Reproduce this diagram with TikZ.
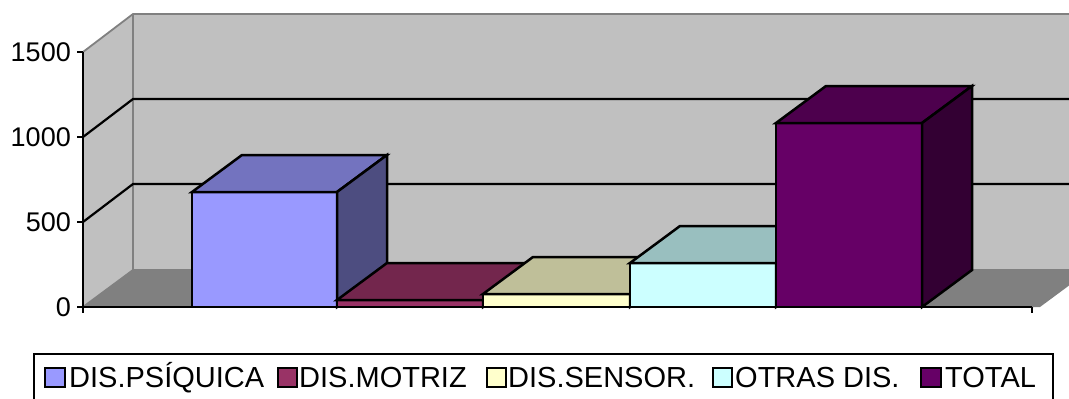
\documentclass[tikz,border=0pt]{standalone}
\usepackage{fontspec}
\setmainfont{Liberation Sans}
\definecolor{wall}{HTML}{C0C0C0}
\definecolor{floorc}{HTML}{808080}
\definecolor{edgec}{HTML}{808080}
\definecolor{fA}{HTML}{9999FF}\definecolor{tA}{HTML}{7373BF}\definecolor{sA}{HTML}{4D4D80}
\definecolor{fB}{HTML}{993366}\definecolor{tB}{HTML}{73264D}\definecolor{sB}{HTML}{4D1A33}
\definecolor{fC}{HTML}{FFFFCC}\definecolor{tC}{HTML}{BFBF99}\definecolor{sC}{HTML}{808066}
\definecolor{fD}{HTML}{CCFFFF}\definecolor{tD}{HTML}{99BFBF}\definecolor{sD}{HTML}{668080}
\definecolor{fE}{HTML}{660066}\definecolor{tE}{HTML}{4D004D}\definecolor{sE}{HTML}{330033}
\newcommand\drawbar[6]{%
  \filldraw[barline,fill=#4] (#1,307) rectangle (#2,#3);
  \filldraw[barline,fill=#5] (#1,#3) -- ++(50,-37) -- ++(#2-#1,0) -- (#2,#3) -- cycle;
  \filldraw[barline,fill=#6] (#2,#3) -- ++(50,-37) -- (#2+50,270) -- (#2,307) -- cycle;
}
\begin{document}
\begin{tikzpicture}[x=1pt,y=-1pt,
  barline/.style={draw=black,line width=2.5pt,line join=miter},
  grid/.style={draw=black,line width=2.2pt},
  wedge/.style={draw=edgec,line width=1.8pt},
  axisline/.style={draw=black,line width=2.6pt},
  ylab/.style={font=\fontsize{27}{27}\selectfont,anchor=base east,inner sep=0pt},
  legtext/.style={font=\fontsize{29}{29}\selectfont,anchor=base west,inner sep=0pt},
  legkey/.style={draw=black,line width=2pt}]
\useasboundingbox (0,0) rectangle (1069,399);
\clip (0,0) rectangle (1069,399);
\fill[white] (0,0) rectangle (1069,399);
% walls
\fill[wall] (133,14) rectangle (1090,270);
\fill[wall] (83,52) -- (133,14) -- (133,270) -- (83,307) -- cycle;
\fill[floorc] (83,307) -- (133,270) -- (1090,270) -- (1040,307) -- cycle;
% wall edges
\draw[wedge] (83,52) -- (133,14) -- (1090,14);
\draw[wedge] (133,14) -- (133,270);
\draw[wedge] (83,307) -- (133,270) -- (1090,270);
\draw[wedge] (1032,307) -- ++(50,-37);
% gridlines
\draw[grid] (83,222) -- (133,184) -- (1090,184);
\draw[grid] (83,137) -- (133,99) -- (1090,99);
% bars
\drawbar{192}{337}{192}{fA}{tA}{sA}
\drawbar{337}{483}{300}{fB}{tB}{sB}
\drawbar{483}{630}{294}{fC}{tC}{sC}
\drawbar{630}{776}{263}{fD}{tD}{sD}
\drawbar{776}{922}{123}{fE}{tE}{sE}
% axes
\draw[axisline] (83,52) -- (83,313);
\draw[axisline] (82,307) -- (1032,307);
\draw[axisline] (1032,307) -- (1032,313);
\foreach \yy in {52,137,222,307} \draw[axisline] (77,\yy) -- (83,\yy);
\node[ylab] (l1500) at (71,61.6) {1500};
\node[ylab] (l1000) at (71,146.6) {1000};
\node[ylab] (l500) at (71,231.6) {500};
\node[ylab] (l0) at (71,316.6) {0};
% legend
\draw[line width=1.8pt] (34,354) rectangle (1053,420);
\filldraw[legkey,fill=fA] (45,368) rectangle (65,387);
\node[legtext] (t1) at (69,387) {DIS.PSÍQUICA};
\filldraw[legkey,fill=fB] (278,368) rectangle (297,387);
\node[legtext] (t2) at (299,387) {DIS.MOTRIZ};
\filldraw[legkey,fill=fC] (487,368) rectangle (506,387);
\node[legtext] (t3) at (508,387) {DIS.SENSOR.};
\filldraw[legkey,fill=fD] (713,368) rectangle (732,387);
\node[legtext] (t4) at (735,387) {OTRAS DIS.};
\filldraw[legkey,fill=fE] (921,368) rectangle (941,387);
\node[legtext] (t5) at (945,387) {TOTAL};
\end{tikzpicture}
\end{document}
